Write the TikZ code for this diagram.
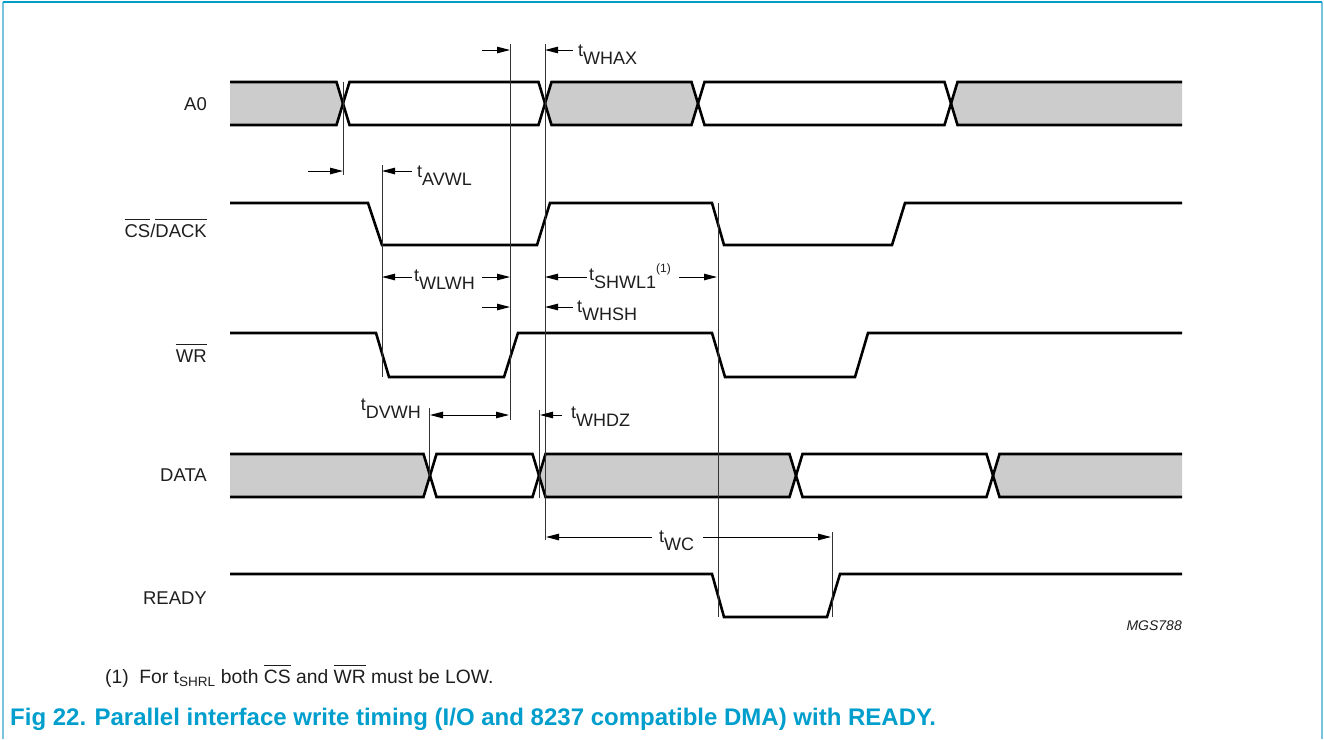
\documentclass[tikz,border=0pt]{standalone}
\usepackage{fontspec}
\setmainfont{Liberation Sans}
\usetikzlibrary{arrows.meta}
\definecolor{nxpblue}{RGB}{0,158,204}
\definecolor{framelight}{RGB}{120,196,222}
\definecolor{busgrey}{RGB}{204,204,204}
\definecolor{txt}{RGB}{30,30,30}
\newcommand\ovl[1]{\leavevmode\vbox{\hrule height 0.9pt\kern 4pt\hbox{#1}}}
\newcommand\tsb[1]{t\raisebox{-8pt}{#1}}
\tikzset{
  sig/.style={line width=2.6pt, line join=miter, miter limit=4, black},
  guide/.style={line width=0.9pt, black!80},
  dimarrow/.style={line width=1pt, black, -{Triangle[length=13pt,width=6.5pt]}},
  dimboth/.style={line width=1pt, black, {Triangle[length=13pt,width=6.5pt]}-{Triangle[length=13pt,width=6.5pt]}},
  siglabel/.style={anchor=base east, font=\fontsize{18.5}{21}\selectfont, text=txt, inner sep=0pt},
  tlabel/.style={font=\fontsize{18}{20}\selectfont, text=txt, inner sep=0pt},
}
\begin{document}
\begin{tikzpicture}[x=1pt,y=-1pt]
\useasboundingbox (0,0) rectangle (1324,739);
% frame
\draw[framelight, line width=1.5pt] (3,2) -- (3,739);
\draw[framelight, line width=1.5pt] (1322,2) -- (1322,739);
\draw[nxpblue, line width=1.5pt] (3,2) -- (1322,2);

% ---------- A0 bus ----------
\fill[busgrey] (230,82) -- (336.5,82) -- (343,103.5) -- (336.5,125) -- (230,125) -- cycle;
\fill[busgrey] (545,103.5) -- (551.5,82) -- (691.5,82) -- (698,103.5) -- (691.5,125) -- (551.5,125) -- cycle;
\fill[busgrey] (951,103.5) -- (957.5,82) -- (1182,82) -- (1182,125) -- (957.5,125) -- cycle;
\draw[sig] (230,82) -- (336.5,82) -- (349.5,125) -- (538.5,125) -- (551.5,82) -- (691.5,82) -- (704.5,125) -- (944.5,125) -- (957.5,82) -- (1182,82);
\draw[sig] (230,125) -- (336.5,125) -- (349.5,82) -- (538.5,82) -- (551.5,125) -- (691.5,125) -- (704.5,82) -- (944.5,82) -- (957.5,125) -- (1182,125);

% ---------- CS/DACK ----------
\draw[sig] (230,203) -- (368,203) -- (382,245) -- (537,245) -- (550,203) -- (712,203) -- (724,245) -- (892,245) -- (905,203) -- (1182,203);

% ---------- WR ----------
\draw[sig] (230,333) -- (376,333) -- (389,377) -- (504,377) -- (518,333) -- (712,333) -- (725,377) -- (855,377) -- (868,333) -- (1182,333);

% ---------- DATA bus ----------
\fill[busgrey] (230,454) -- (423.5,454) -- (430,475.5) -- (423.5,497) -- (230,497) -- cycle;
\fill[busgrey] (539,475.5) -- (545.5,454) -- (789.5,454) -- (796,475.5) -- (789.5,497) -- (545.5,497) -- cycle;
\fill[busgrey] (993,475.5) -- (999.5,454) -- (1182,454) -- (1182,497) -- (999.5,497) -- cycle;
\draw[sig] (230,454) -- (423.5,454) -- (436.5,497) -- (532.5,497) -- (545.5,454) -- (789.5,454) -- (802.5,497) -- (986.5,497) -- (999.5,454) -- (1182,454);
\draw[sig] (230,497) -- (423.5,497) -- (436.5,454) -- (532.5,454) -- (545.5,497) -- (789.5,497) -- (802.5,454) -- (986.5,454) -- (999.5,497) -- (1182,497);

% ---------- READY ----------
\draw[sig] (230,574) -- (712,574) -- (724,617) -- (827,617) -- (840,574) -- (1182,574);

% ---------- signal names ----------
\node[siglabel] (nA0) at (207,110) {A0};
\node[siglabel] (nCS) at (207,237) {\ovl{CS}/\ovl{DACK}};
\node[siglabel] (nWR) at (207,362) {\ovl{WR}};
\node[siglabel] (nDATA) at (207,481) {DATA};
\node[siglabel] (nREADY) at (207,604) {READY};

% ---------- guide lines ----------
\coordinate (g343a) at (343,82);   \coordinate (g343b) at (343,175);
\coordinate (g382a) at (382,165);  \coordinate (g382b) at (382,377);
\coordinate (g510a) at (510,44);   \coordinate (g510b) at (510,420);
\coordinate (g545a) at (545,44);   \coordinate (g545b) at (545,540);
\coordinate (g718a) at (718,203);  \coordinate (g718b) at (718,617);
\coordinate (g429a) at (429,408);  \coordinate (g429b) at (429,476);
\coordinate (g539a) at (539,410);  \coordinate (g539b) at (539,498);
\coordinate (g832a) at (832,532);  \coordinate (g832b) at (832,617);
\foreach \a/\b in {g343a/g343b,g382a/g382b,g510a/g510b,g545a/g545b,g718a/g718b,g429a/g429b,g539a/g539b,g832a/g832b}
  \draw[guide] (\a) -- (\b);

% ---------- timing arrows & labels ----------
% tWHAX
\draw[dimarrow] (482,50) -- (g510a |- 0,50);
\draw[dimarrow] (573,50) -- (g545a |- 0,50);
\node[tlabel, anchor=base west] (tWHAX) at (578,56) {\tsb{WHAX}};
% tAVWL
\draw[dimarrow] (308,171) -- (g343a |- 0,171);
\draw[dimarrow] (412,171) -- (g382a |- 0,171);
\node[tlabel, anchor=base west] (tAVWL) at (417,177) {\tsb{AVWL}};
% tWLWH
\node[tlabel, anchor=base west] (tWLWH) at (414,281) {\tsb{WLWH}};
\draw[dimarrow] (412,277) -- (382,277);
\draw[dimarrow] (482,277) -- (510,277);
% tSHWL1
\node[tlabel, anchor=base west] (tSHWL) at (589,280) {\tsb{SHWL1}\raisebox{8pt}{\fontsize{12}{14}\selectfont(1)}};
\draw[dimarrow] (587,277) -- (545,277);
\draw[dimarrow] (679,277) -- (717,277);
% tWHSH
\draw[dimarrow] (482,307) -- (510,307);
\draw[dimarrow] (573,307) -- (545,307);
\node[tlabel, anchor=base west] (tWHSH) at (577,312) {\tsb{WHSH}};
% tDVWH
\node[tlabel, anchor=base east] (tDVWH) at (421,410) {\tsb{DVWH}};
\draw[dimboth] (430,415) -- (509,415);
% tWHDZ
\draw[dimarrow] (562,415) -- (540,415);
\node[tlabel, anchor=base west] (tWHDZ) at (571,418) {\tsb{WHDZ}};
% tWC
\node[tlabel, anchor=base west] (tWC) at (659,542) {\tsb{WC}};
\draw[dimarrow] (652,537) -- (546,537);
\draw[dimarrow] (703,537) -- (831,537);

% ---------- reference code ----------
\node[font=\fontsize{14}{16}\selectfont\itshape, text=txt, anchor=base east, inner sep=0pt] (mgs) at (1182,630) {MGS788};

% ---------- footnote & caption ----------
\node[font=\fontsize{19.3}{22}\selectfont, text=txt, anchor=base west, inner sep=0pt] (note) at (105,683)
  {(1)\hspace{0.55em}For t\textsubscript{SHRL} both \ovl{CS} and \ovl{WR} must be LOW.};
\node[font=\fontsize{24}{27}\selectfont\bfseries, text=nxpblue, anchor=base west, inner sep=0pt] (cap) at (10,725)
  {Fig 22.\hspace{0.35em}Parallel interface write timing (I/O and 8237 compatible DMA) with READY.};
\end{tikzpicture}
\end{document}
